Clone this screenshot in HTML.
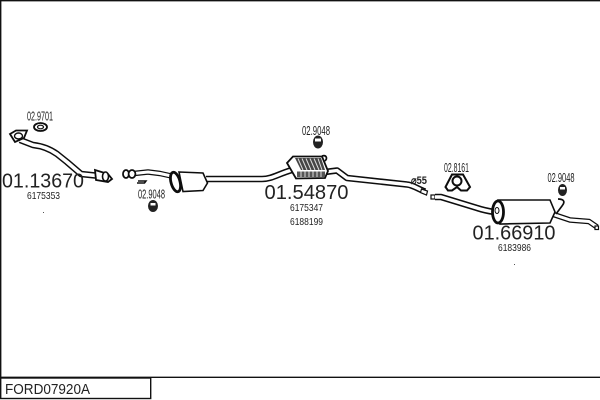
<!DOCTYPE html>
<html><head><meta charset="utf-8"><style>
html,body{margin:0;padding:0;background:#fff}
svg{display:block}
text{font-family:"Liberation Sans",sans-serif;fill:#222}
.p{fill:none;stroke:#111;stroke-linejoin:round;stroke-linecap:butt}
.w{fill:none;stroke:#fff;stroke-linejoin:round}
</style></head><body>
<svg width="600" height="400" viewBox="0 0 600 400" xmlns="http://www.w3.org/2000/svg">
<defs><filter id="b" x="-2%" y="-2%" width="104%" height="104%"><feGaussianBlur stdDeviation="0.3"/></filter></defs>
<rect width="600" height="400" fill="#fff"/>
<path d="M0.7 0V377M0 0.7H600M0 377.300H600" stroke="#111" stroke-width="1.400" fill="none"/>
<rect x="0.700" y="378" width="150" height="20.500" fill="#fff" stroke="#111" stroke-width="1.400"/>
<text x="5" y="394" font-size="14.500" textLength="85" lengthAdjust="spacingAndGlyphs">FORD07920A</text>

<g filter="url(#b)">
<!-- part 1 -->
<text x="27" y="120.500" font-size="12.500" textLength="26" lengthAdjust="spacingAndGlyphs">02.9701</text>
<ellipse cx="40.500" cy="127" rx="6.500" ry="4" fill="#fff" stroke="#111" stroke-width="1.800"/>
<ellipse cx="40.500" cy="127" rx="3" ry="1.800" fill="#fff" stroke="#111" stroke-width="1.200"/>
<path class="p" stroke-width="6.500" d="M20 140L33 145C42 146 50 149 57 154L67 162L81 174L100 176"/>
<path class="w" stroke-width="3.600" d="M20 140L33 145C42 146 50 149 57 154L67 162L81 174L100 176"/>
<path d="M10 134L16 130.500H27L24 138L15 142Z" fill="#fff" stroke="#111" stroke-width="1.800"/>
<ellipse cx="18.500" cy="136" rx="4" ry="3" fill="#fff" stroke="#111" stroke-width="1.400"/>
<path d="M95 170L108 174L112 179L108 182L96 180Z" fill="#fff" stroke="#111" stroke-width="1.800"/>
<ellipse cx="105.500" cy="176.500" rx="3" ry="4.500" fill="#fff" stroke="#111" stroke-width="1.600"/>
<text x="2" y="187.500" font-size="20.500" textLength="82" lengthAdjust="spacingAndGlyphs">01.13670</text>
<text x="27" y="199" font-size="10.500" fill="#555" textLength="33" lengthAdjust="spacingAndGlyphs">6175353</text>
<rect x="43" y="212" width="1" height="1" fill="#555"/>

<!-- part 2 front -->
<path class="p" stroke-width="5.500" d="M134 173.500L148 172L160 173.500L176 177"/>
<path class="w" stroke-width="3" d="M134 173.500L148 172L160 173.500L176 177"/>
<ellipse cx="126" cy="174" rx="3" ry="4" fill="#fff" stroke="#111" stroke-width="1.800"/>
<ellipse cx="132" cy="174" rx="3.400" ry="4" fill="#fff" stroke="#111" stroke-width="1.800"/>
<path d="M138 181H146L144.500 183H137" fill="none" stroke="#111" stroke-width="1.500"/>
<path class="p" stroke-width="6.500" d="M206 179H262C272 179 278 174 292 170M325 172L337 170.500L347 178L407 184.500C413 185 418 189 425 191.500"/>
<path class="w" stroke-width="3.400" d="M206 179H262C272 179 278 174 292 170M325 172L337 170.500L347 178L407 184.500C413 185 418 189 425 191.500"/>
<path d="M179 172L203 173L207.500 183L203 190.500L183 191.500Z" fill="#fff" stroke="#111" stroke-width="1.600"/>
<ellipse cx="175.500" cy="182" rx="4.500" ry="10" fill="#fff" stroke="#111" stroke-width="2.800" transform="rotate(-15 175.500 182)"/>
<text x="138" y="198.500" font-size="12.500" textLength="27" lengthAdjust="spacingAndGlyphs">02.9048</text>
<ellipse cx="153" cy="206" rx="5" ry="6" fill="#222"/><rect x="150.500" y="203" width="5" height="2.500" fill="#fff"/>

<!-- middle -->
<path d="M421.500 189L427.500 191L426.500 195L420.500 192.500Z" fill="#fff" stroke="#111" stroke-width="1.200"/>
<text x="302" y="135" font-size="12.500" textLength="28" lengthAdjust="spacingAndGlyphs">02.9048</text>
<ellipse cx="318" cy="142" rx="5" ry="6.500" fill="#222"/><rect x="315" y="138.500" width="6" height="3" fill="#fff"/>
<path d="M287 163L293 156.500H322L328 171L325 178L296 178.500Z" fill="#fff" stroke="#111" stroke-width="1.800"/>
<path d="M295 158H321L325 170H301Z" fill="#444"/>
<path d="M298 158.500L303 170M302 158.500L307 170M306 158.500L311 170M310 158.500L315 170M314 158.500L319 170M318 158.500L322 170" stroke="#ddd" stroke-width="1"/>
<path d="M297 171.500H325V177H297Z" fill="#555"/>
<path d="M301 171.500V177M305 171.500V177M309 171.500V177M313 171.500V177M317 171.500V177M321 171.500V177" stroke="#ddd"/>
<path d="M322 156C326 154.500 328 158 325 161" fill="none" stroke="#111" stroke-width="1.700"/>
<text x="264.500" y="199" font-size="20.500" textLength="84" lengthAdjust="spacingAndGlyphs">01.54870</text>
<text x="290" y="211" font-size="10.500" fill="#555" textLength="33" lengthAdjust="spacingAndGlyphs">6175347</text>
<text x="290" y="225" font-size="10.500" fill="#555" textLength="33" lengthAdjust="spacingAndGlyphs">6188199</text>
<text x="411" y="184" font-size="11" font-weight="bold" textLength="16" lengthAdjust="spacingAndGlyphs">⌀55</text>

<!-- rear -->
<text x="444" y="172" font-size="12.500" textLength="25" lengthAdjust="spacingAndGlyphs">02.8161</text>
<path d="M445.500 187L452 174.500H463L470 187L467 190.500H461L457 187L452 190.500H448Z" fill="#fff" stroke="#111" stroke-width="2"/>
<circle cx="457" cy="181" r="4.500" fill="#fff" stroke="#111" stroke-width="2"/>
<rect x="431" y="195" width="4" height="4" fill="#fff" stroke="#111" stroke-width="1.200"/>
<path class="p" stroke-width="6.500" d="M435 197H441L477 208C483 210 488 211 494 212"/>
<path class="w" stroke-width="3.400" d="M435 197H441L477 208C483 210 488 211 494 212"/>
<path class="p" stroke-width="5.500" d="M552 214L570 220L589 221.500L597 227"/>
<path class="w" stroke-width="3" d="M552 214L570 220L589 221.500L597 227"/>
<path d="M498 200H550L555 212L550 223L500 224Z" fill="#fff" stroke="#111" stroke-width="1.600"/>
<ellipse cx="498" cy="212" rx="5.500" ry="11" fill="#fff" stroke="#111" stroke-width="2.800"/>
<ellipse cx="497" cy="210.500" rx="2" ry="3" fill="#fff" stroke="#111" stroke-width="1"/>
<rect x="595" y="226" width="3.500" height="3.500" fill="#fff" stroke="#111" stroke-width="1.200"/>
<path d="M558 199C563 199 566 201 562 206L556 214" fill="none" stroke="#111" stroke-width="1.700"/>
<text x="547.500" y="182" font-size="12.500" textLength="27" lengthAdjust="spacingAndGlyphs">02.9048</text>
<ellipse cx="562.500" cy="190" rx="4.500" ry="6" fill="#222"/><rect x="560" y="187" width="5" height="2.500" fill="#fff"/>
<text x="472.500" y="239.500" font-size="20.500" textLength="83" lengthAdjust="spacingAndGlyphs">01.66910</text>
<text x="498" y="251" font-size="10.500" fill="#555" textLength="33" lengthAdjust="spacingAndGlyphs">6183986</text>
<rect x="514" y="264" width="1" height="1" fill="#555"/>
</g>
</svg>
</body></html>
